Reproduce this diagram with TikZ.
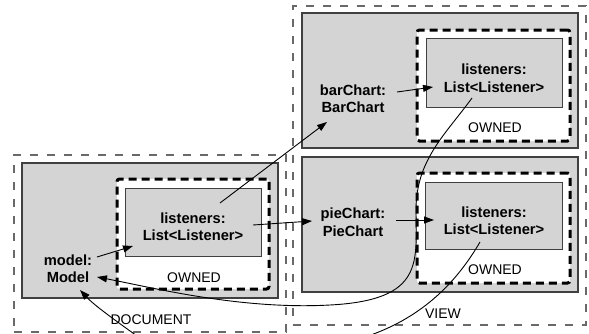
\documentclass[tikz,border=0pt]{standalone}
\usepackage{fontspec}
\setmainfont{Liberation Sans}
\usetikzlibrary{arrows.meta}
\definecolor{boxgray}{RGB}{212,212,212}
\definecolor{framegray}{RGB}{105,105,105}

\begin{document}
\begin{tikzpicture}[x=1pt,y=-1pt,
  region/.style={draw=framegray, line width=1.2pt, dash pattern=on 8pt off 9pt, inner sep=0pt},
  panel/.style={draw=black!75, fill=boxgray, line width=1.1pt, inner sep=0pt},
  ownedbox/.style={draw=black, fill=white, line width=3pt, dash pattern=on 8pt off 5pt, rounded corners=2.5pt, inner sep=0pt},
  listbox/.style={draw=black!75, fill=boxgray, line width=1pt, inner sep=0pt},
  objlabel/.style={font=\fontsize{14.7}{17.5}\selectfont\bfseries, align=center, inner sep=2pt},
  plainlabel/.style={font=\fontsize{14}{17}\selectfont, inner sep=1pt},
  ref/.style={draw=black, line width=0.9pt, -{Triangle[length=10pt,width=7pt]}},
  link/.style={draw=black, line width=0.9pt}
]
\useasboundingbox (0,0) rectangle (589,333);

% outer regions
\node[region, minimum width=272pt, minimum height=177pt] (document) at (150,243.5) {};
\node[region, minimum width=293pt, minimum height=319pt] (view) at (439.5,165.5) {};

% document side
\node[panel, minimum width=256pt, minimum height=135pt] (docpanel) at (150,230.5) {};
\node[ownedbox, minimum width=152pt, minimum height=110pt] (docowned) at (193,234) {};
\node[listbox, minimum width=136pt, minimum height=68pt] (doclist) at (193,222) {};
\node[objlabel] (doclisttext) at (193,226.5) {listeners:\\List<Listener>};
\node[plainlabel] (docownedlabel) at (194,277.5) {OWNED};
\node[objlabel] (model) at (68,268.5) {model:\\Model};
\node[plainlabel] (doclabel) at (151,319.5) {DOCUMENT};

% bar chart
\node[panel, minimum width=276pt, minimum height=135pt] (barpanel) at (440,80.5) {};
\node[ownedbox, minimum width=153pt, minimum height=111pt] (barowned) at (493.5,85.5) {};
\node[listbox, minimum width=136pt, minimum height=69pt] (barlist) at (494,72.5) {};
\node[objlabel] (barlisttext) at (494,78) {listeners:\\List<Listener>};
\node[plainlabel] (barownedlabel) at (495,127.5) {OWNED};
\node[objlabel] (bar) at (353,98.5) {barChart:\\BarChart};

% pie chart
\node[panel, minimum width=276pt, minimum height=135pt] (piepanel) at (440,224.5) {};
\node[ownedbox, minimum width=153pt, minimum height=110pt] (pieowned) at (493.5,228) {};
\node[listbox, minimum width=137pt, minimum height=67pt] (pielist) at (493.5,215.5) {};
\node[objlabel] (pielisttext) at (494,220.5) {listeners:\\List<Listener>};
\node[plainlabel] (pieownedlabel) at (495,269.5) {OWNED};
\node[objlabel] (pie) at (353,222) {pieChart:\\PieChart};
\node[plainlabel] (viewlabel) at (443,313.5) {VIEW};

% free ends of the links that leave the picture
\coordinate (wrapout) at (368,336);
\coordinate (wrapin) at (137,336);

% straight references
\draw[ref] ([shift={(29,-11.5)}]model.center) -- ([shift={(-60,24)}]doclist.center);
\draw[ref] ([shift={(27,-19)}]doclist.center) -- ([shift={(-26,23.5)}]bar.center);
\draw[ref] ([shift={(60,3)}]doclist.center) -- ([shift={(-41,-1)}]pie.center);
\draw[ref] ([shift={(44,-6.5)}]bar.center) -- ([shift={(-61,14.5)}]barlist.center);
\draw[ref] ([shift={(43,-2)}]pie.center) -- ([shift={(-59.5,4.5)}]pielist.center);

% listener links
\draw[ref] ([shift={(-22,25.5)}]barlist.center)
  .. controls (445,135) and (416,160) .. (416,210)
  .. controls (416,262) and (425,300) .. (330,305)
  .. controls (240,310) and (150,287) .. ([shift={(29,8.5)}]model.center);
\draw[link] ([shift={(-13.5,26.5)}]pielist.center) .. controls (455,285) and (420,318) .. (wrapout);
\draw[ref] (wrapin) .. controls (112,318) and (94,305) .. ([shift={(12,21.5)}]model.center);
\end{tikzpicture}
\end{document}
